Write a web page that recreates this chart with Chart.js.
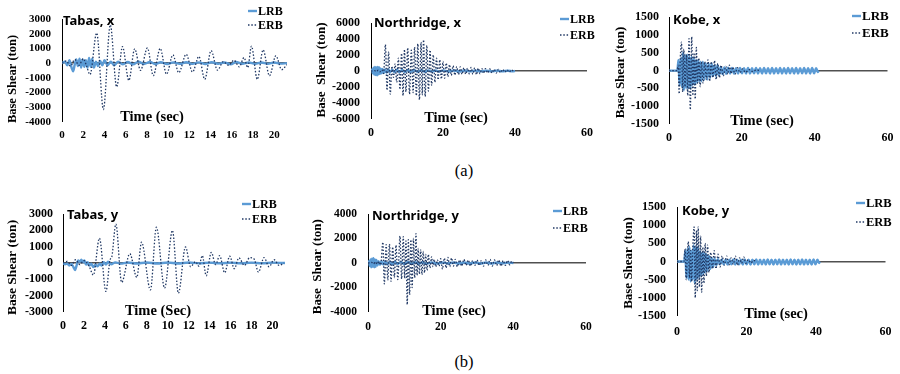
<!DOCTYPE html>
<html>
<head>
<meta charset="utf-8">
<script src="https://cdn.jsdelivr.net/npm/chart.js@4.4.1/dist/chart.umd.min.js"></script>
<style>
html, body { margin: 0; padding: 0; background: #fff; }
#wrap { position: relative; width: 900px; height: 374px; overflow: hidden; }
#wrap canvas { position: absolute; }
.cap { position: absolute; font-family: "Liberation Serif", "Times New Roman", serif; font-size: 16.5px; color: #000; transform: translate(-50%, -50%); }
</style>
</head>
<body>
<div id="wrap">
  <canvas id="c1" width="300" height="150" style="left:0px;top:0px"></canvas>
  <canvas id="c2" width="300" height="150" style="left:300px;top:0px"></canvas>
  <canvas id="c3" width="300" height="150" style="left:600px;top:0px"></canvas>
  <canvas id="c4" width="300" height="155" style="left:0px;top:185px"></canvas>
  <canvas id="c5" width="300" height="155" style="left:300px;top:185px"></canvas>
  <canvas id="c6" width="300" height="155" style="left:600px;top:185px"></canvas>
  <div class="cap" style="left:464px;top:171px">(a)</div>
  <div class="cap" style="left:464px;top:362px">(b)</div>
</div>
<script>
// --- DATA ---
const seriesNames = ['LRB', 'ERB'];

const timeTicksTabas = [0, 2, 4, 6, 8, 10, 12, 14, 16, 18, 20];
const timeTicksLong = [0, 20, 40, 60];
const shearTicksTabasX = [-4000, -3000, -2000, -1000, 0, 1000, 2000, 3000];
const shearTicksTabasY = [-3000, -2000, -1000, 0, 1000, 2000, 3000];
const shearTicksNorthX = [-6000, -4000, -2000, 0, 2000, 4000, 6000];
const shearTicksNorthY = [-4000, -2000, 0, 2000, 4000];
const shearTicksKobe = [-1500, -1000, -500, 0, 500, 1000, 1500];

// [time (sec), base shear (ton)]
const tabasX_LRB = [[0,0],[0.3,100],[0.5,-150],[0.7,200],[0.9,-300],[1.05,-550],[1.2,-100],[1.35,250],[1.5,-200],[1.65,300],[1.8,-300],[1.95,250],[2.1,-250],[2.25,200],[2.4,-300],[2.55,350],[2.7,-250],[2.85,300],[3.0,-300],[3.2,100],[3.4,-200],[3.6,150],[3.8,-150],[4.0,200],[4.3,-150],[4.6,100],[4.9,-150],[5.3,100],[5.7,-80],[6.2,80],[6.7,-80],[7.2,100],[7.7,-60],[8.3,80],[8.8,-60],[9.3,60],[9.9,-60],[10.5,50],[11.1,-50],[11.7,60],[12.3,-50],[12.9,50],[13.5,-60],[14.1,60],[14.7,-40],[15.3,40],[15.9,-80],[16.4,80],[17.0,-40],[17.6,40],[18.2,-50],[18.8,40],[19.4,-40],[20.0,40],[20.6,-30],[21.2,0]];
const tabasX_ERB = [[0,0],[0.4,150],[0.8,-200],[1.2,250],[1.6,-150],[2.0,300],[2.3,-150],[2.64,-780],[3.27,2050],[3.9,-3150],[4.55,2600],[5.15,-1620],[5.7,1120],[6.3,-1170],[6.85,970],[7.4,-490],[8.05,1030],[8.6,-850],[9.25,1000],[9.85,-750],[10.45,560],[11.0,-650],[11.7,600],[12.3,-600],[12.9,450],[13.45,-1100],[14.05,850],[14.65,-480],[15.2,100],[15.7,-150],[16.2,200],[16.7,-250],[17.15,380],[17.5,-300],[17.85,1150],[18.4,-1100],[18.95,900],[19.55,-860],[20.15,500],[20.7,-440],[21.2,-100]];

const northX_LRB = [[0,0],[0.3,200],[0.5,-300],[0.7,400],[0.9,-450],[1.1,500],[1.3,-500],[1.5,450],[1.7,-550],[1.9,500],[2.1,-400],[2.3,450],[2.5,-350],[2.7,300],[2.9,-300],[3.2,250],[3.5,-250],[3.9,200],[4.3,-200],[4.8,200],[5.3,-150],[5.9,150],[6.5,-150],[7.2,150],[7.9,-150],[8.6,120],[9.4,-120],[10.2,120],[11.0,-120],[12.0,100],[13.0,-100],[14.0,100],[15.0,-100],[16.0,80],[17.0,-80],[18.0,80],[19.0,-80],[20.0,80],[21.5,-60],[23.0,60],[24.5,-60],[26.0,60],[27.5,-50],[29.0,50],[30.5,-50],[32.0,50],[33.5,-50],[35.0,50],[36.5,-40],[38.0,40],[39.5,-30],[40.0,0]];
const northX_ERB = [[0,0],[1.0,50],[1.5,-80],[2.0,100],[2.5,-100],[3.0,150],[3.5,-300],[4.0,3300],[4.45,-2400],[4.9,2400],[5.35,-2900],[5.8,600],[6.25,-800],[6.7,900],[7.15,-1400],[7.6,1600],[8.05,-2300],[8.5,2200],[8.9,-3100],[9.3,2700],[9.7,-2600],[10.2,2900],[10.7,-2900],[11.2,2600],[11.7,-2700],[12.1,3000],[12.6,-3100],[13.0,3400],[13.45,-3600],[13.9,3600],[14.25,-3000],[14.6,3900],[15.05,-3200],[15.5,3200],[15.95,-2500],[16.4,2600],[16.85,-1800],[17.3,2000],[17.75,-1400],[18.2,1600],[18.65,-1100],[19.1,1400],[19.55,-1000],[20.0,1200],[20.45,-900],[20.9,1000],[21.35,-700],[21.8,800],[22.3,-550],[22.8,650],[23.3,-500],[23.8,550],[24.3,-450],[24.8,500],[25.3,-400],[25.8,400],[26.3,-400],[26.8,350],[27.3,-350],[27.8,450],[28.3,-400],[28.8,400],[29.3,-450],[29.8,350],[30.3,-350],[30.8,300],[31.3,-300],[31.8,300],[32.4,-250],[33.0,250],[33.6,-250],[34.2,200],[34.8,-250],[35.4,200],[36.0,-200],[36.6,200],[37.2,-150],[37.8,150],[38.4,-150],[39.0,150],[39.5,0]];

const kobeX_LRB = [[0,0],[2.3,0],[2.6,300],[2.9,-400],[3.2,350],[3.5,-450],[3.8,500],[4.1,-550],[4.4,450],[4.7,-500],[5.0,450],[5.3,-500],[5.6,400],[5.9,-500],[6.2,400],[6.5,-400],[6.8,350],[7.1,-400],[7.4,300],[7.7,-350],[8.0,300],[8.3,-300],[8.6,250],[8.9,-300],[9.3,250],[9.7,-250],[10.1,200],[10.5,-250],[10.9,200],[11.3,-200],[11.7,200],[12.1,-150],[12.5,150],[12.9,-150],[13.3,150],[13.7,-120],[14.2,100],[14.7,-100],[15.2,90],[15.7,-90],[16.2,80],[16.75,-80],[17.3,75],[17.85,-80],[18.4,70],[18.95,-80],[19.5,75],[20.05,-75],[20.6,70],[21.15,-80],[21.7,75],[22.25,-80],[22.8,70],[23.35,-75],[23.9,75],[24.45,-80],[25.0,70],[25.55,-80],[26.1,75],[26.65,-75],[27.2,70],[27.75,-80],[28.3,75],[28.85,-80],[29.4,70],[29.95,-75],[30.5,75],[31.05,-80],[31.6,70],[32.15,-80],[32.7,75],[33.25,-75],[33.8,70],[34.35,-80],[34.9,75],[35.45,-80],[36.0,70],[36.55,-75],[37.1,75],[37.65,-80],[38.2,70],[38.75,-80],[39.3,75],[39.85,-75],[40.4,70],[40.9,-40],[41.1,0]];
const kobeX_ERB = [[0,0],[2.2,0],[2.5,150],[2.8,-650],[3.1,350],[3.44,800],[3.75,-600],[4.07,600],[4.4,-450],[4.8,450],[5.15,-700],[5.5,900],[5.85,-1100],[6.24,950],[6.55,-700],[6.88,500],[7.2,-800],[7.5,650],[7.85,-350],[8.2,350],[8.55,-450],[8.9,250],[9.35,-350],[9.8,250],[10.25,-250],[10.7,300],[11.15,-300],[11.6,250],[12.05,-200],[12.5,280],[12.95,-250],[13.4,200],[13.85,-200],[14.3,150],[14.9,-150],[15.6,120],[16.1,-100],[16.6,150],[17.05,-80],[17.5,100],[18.1,-100],[18.8,80],[19.5,-60],[20.2,50],[21.0,-50],[22.0,30],[23.0,-30],[24.0,20],[25.0,0]];

const tabasY_LRB = [[0,0],[0.2,-80],[0.4,-40],[0.6,-150],[0.8,-60],[1.0,-250],[1.15,-430],[1.3,-150],[1.45,150],[1.6,80],[1.75,200],[1.9,50],[2.05,150],[2.2,-100],[2.35,50],[2.5,-150],[2.7,-50],[2.9,-250],[3.1,-100],[3.3,-200],[3.5,-50],[3.7,-150],[3.9,50],[4.1,-100],[4.3,80],[4.6,-80],[5.0,40],[5.5,-40],[6.2,30],[7.0,-30],[8.0,30],[9.0,-30],[10.0,30],[11.0,-30],[12.0,30],[13.0,-20],[14.0,20],[15.0,-20],[16.0,20],[17.0,-20],[18.0,20],[19.0,-20],[20.0,20],[21.2,0]];
const tabasY_ERB = [[0,0],[0.4,100],[0.8,-150],[1.2,200],[1.6,-100],[2.0,150],[2.5,-200],[2.9,-740],[3.48,1520],[4.1,-1740],[4.5,200],[4.65,350],[5.05,2380],[5.6,-1190],[6.38,570],[7.05,-880],[7.5,1270],[8.35,-1650],[8.92,2190],[9.7,-1540],[10.45,2000],[11.02,-1850],[11.7,980],[12.19,-230],[12.66,80],[12.98,-200],[13.3,450],[13.68,-780],[14.16,650],[14.58,-100],[14.96,450],[15.44,-600],[15.92,420],[16.36,-350],[16.8,320],[17.32,-150],[17.83,330],[18.25,250],[18.66,-560],[19.2,330],[19.68,-230],[20.16,200],[20.64,-150],[21.1,0]];

const northY_LRB = [[0,0],[0.3,150],[0.5,-250],[0.7,300],[0.9,-350],[1.1,350],[1.3,-300],[1.5,400],[1.7,-350],[1.9,300],[2.1,-300],[2.3,250],[2.6,-200],[2.9,150],[3.3,-150],[3.7,150],[4.2,-120],[4.7,120],[5.3,-100],[6.0,100],[6.7,-100],[7.4,100],[8.2,-80],[9.0,80],[10.0,-80],[11.0,80],[12.0,-70],[13.0,70],[14.0,-70],[15.0,60],[16.0,-60],[17.5,50],[19.0,-50],[20.5,50],[22.0,-40],[23.5,40],[25.0,-40],[26.5,40],[28.0,-40],[29.5,40],[31.0,-40],[32.5,40],[34.0,-40],[35.5,40],[37.0,-30],[38.5,30],[40.0,0]];
const northY_ERB = [[0,0],[1.0,50],[1.5,-80],[2.0,100],[2.5,-100],[3.0,120],[3.5,-150],[4.09,1700],[4.5,-1700],[5.0,1500],[5.45,-1400],[5.9,1550],[6.35,-1500],[6.8,1300],[7.25,-1200],[7.7,1450],[8.2,-1350],[8.8,2200],[9.25,-1300],[9.7,2150],[10.1,-1250],[10.45,1800],[10.8,-3400],[11.1,1900],[11.45,-2600],[11.8,1900],[12.15,-2000],[12.5,2000],[12.85,-1200],[13.2,2400],[13.5,-1000],[13.8,1200],[14.15,-900],[14.5,1100],[14.85,-950],[15.2,950],[15.55,-800],[15.9,700],[16.25,-600],[16.6,700],[17.05,-400],[17.5,500],[17.85,-300],[18.2,300],[18.65,-300],[19.1,250],[19.55,-250],[20.0,350],[20.5,-500],[21.0,400],[21.5,-400],[22.0,450],[22.5,-300],[23.0,400],[23.5,-250],[24.0,300],[24.6,-300],[25.2,250],[25.8,-250],[26.4,300],[27.0,-200],[27.6,250],[28.2,-250],[28.8,200],[29.4,-200],[30.0,250],[30.6,-200],[31.2,200],[31.8,-250],[32.4,250],[33.0,-200],[33.6,300],[34.2,-250],[34.8,250],[35.4,-200],[36.0,250],[36.6,-250],[37.2,200],[37.8,-200],[38.4,200],[39.0,-150],[39.6,150],[40.0,0]];

const kobeY_LRB = [[0,0],[2.1,0],[2.4,300],[2.7,-450],[3.0,350],[3.3,-500],[3.6,400],[3.9,-550],[4.2,300],[4.5,-500],[4.8,450],[5.1,-600],[5.4,400],[5.7,-500],[6.0,400],[6.3,-450],[6.6,300],[6.9,-400],[7.2,250],[7.5,-350],[7.8,250],[8.1,-300],[8.45,200],[8.8,-250],[9.2,150],[9.6,-200],[10.0,100],[10.4,-150],[10.8,80],[11.3,-100],[11.8,60],[12.35,-80],[12.9,55],[13.45,-80],[14.0,50],[14.55,-85],[15.1,50],[15.65,-80],[16.2,55],[16.75,-85],[17.3,50],[17.85,-80],[18.4,50],[18.95,-85],[19.5,55],[20.05,-80],[20.6,50],[21.15,-85],[21.7,50],[22.25,-80],[22.8,55],[23.35,-85],[23.9,50],[24.45,-80],[25.0,50],[25.55,-85],[26.1,55],[26.65,-80],[27.2,50],[27.75,-85],[28.3,50],[28.85,-80],[29.4,55],[29.95,-85],[30.5,50],[31.05,-80],[31.6,50],[32.15,-85],[32.7,55],[33.25,-80],[33.8,50],[34.35,-85],[34.9,50],[35.45,-80],[36.0,55],[36.55,-85],[37.1,50],[37.65,-80],[38.2,50],[38.75,-85],[39.3,55],[39.85,-80],[40.4,50],[40.9,-40],[41.1,0]];
const kobeY_ERB = [[0,0],[2.0,0],[2.3,350],[2.65,-500],[3.0,250],[3.26,550],[3.6,-450],[3.9,300],[4.2,-550],[4.55,400],[4.93,950],[5.25,-1000],[5.6,850],[5.85,-800],[6.1,950],[6.45,-700],[6.8,700],[7.1,-850],[7.45,400],[7.75,-600],[8.1,500],[8.45,-400],[8.8,450],[9.2,-300],[9.7,250],[10.2,-200],[10.7,300],[11.2,-200],[11.8,200],[12.4,-150],[13.0,150],[13.6,-100],[14.3,150],[14.9,-100],[15.6,100],[16.2,-80],[16.8,150],[17.4,-100],[18.0,100],[18.6,-50],[19.2,130],[19.8,-50],[20.5,50],[21.3,-40],[22.0,30],[23.0,0]];

// --- STYLE ---
const SERIF = '"Liberation Serif", "Times New Roman", serif';
const SANS = '"Noto Sans", "Open Sans", sans-serif';
const LRB_COLOR = '#5b9bd5';
const ERB_COLOR = '#203864';
const ZERO_COLOR = '#505050';

// panels: canvas offset + layout (page px)
const panels = [
  { id: 'c1', left: 0, top: 0, lrb: tabasX_LRB, erb: tabasX_ERB, xMax: 21.2, xTicks: timeTicksTabas,
    yMin: -4000, yMax: 3000, yTicks: shearTicksTabasX, yW: 62, padR: 13, padT: 19, xH: 28,
    tickSize: 11, xPad: 7, yPad: 11,
    title: 'Tabas, x', titlePos: [63, 21], xTitle: 'Time (sec)', xTitlePos: [152, 117],
    yTitle: 'Base Shear (ton)', yTitlePos: [13, 79], yTitleSize: 12.5, legendPos: [248, 11, 25], legendSize: 12 },
  { id: 'c2', left: 300, top: 0, lrb: northX_LRB, erb: northX_ERB, xMax: 60, xTicks: timeTicksLong,
    yMin: -6000, yMax: 6000, yTicks: shearTicksNorthX, yW: 71, padR: 11, padT: 23, xH: 31,
    tickSize: 12, xPad: 7, yPad: 11,
    title: 'Northridge, x', titlePos: [374, 23.5], xTitle: 'Time (sec)', xTitlePos: [456, 118],
    yTitle: 'Base  Shear (ton)', yTitlePos: [322, 70], yTitleSize: 13, legendPos: [560, 19, 35], legendSize: 12 },
  { id: 'c3', left: 600, top: 0, lrb: kobeX_LRB, erb: kobeX_ERB, xMax: 60, xTicks: timeTicksLong,
    yMin: -1500, yMax: 1500, yTicks: shearTicksKobe, yW: 69, padR: 12, padT: 17, xH: 26,
    tickSize: 12, xPad: 6.5, yPad: 10,
    title: 'Kobe, x', titlePos: [673, 20], xTitle: 'Time (sec)', xTitlePos: [762, 121],
    yTitle: 'Base Shear (ton)', yTitlePos: [621, 72.5], yTitleSize: 13, legendPos: [852, 16, 33], legendSize: 13 },
  { id: 'c4', left: 0, top: 185, lrb: tabasY_LRB, erb: tabasY_ERB, xMax: 21.2, xTicks: timeTicksTabas,
    yMin: -3000, yMax: 3000, yTicks: shearTicksTabasY, yW: 63, padR: 15, padT: 29, xH: 28,
    tickSize: 12, xPad: 6.5, yPad: 10,
    title: 'Tabas, y', titlePos: [67, 215], xTitle: 'Time (Sec)', xTitlePos: [158, 311],
    yTitle: 'Base Shear (ton)', yTitlePos: [13, 267.5], yTitleSize: 13.5, legendPos: [242, 204, 219], legendSize: 12 },
  { id: 'c5', left: 300, top: 185, lrb: northY_LRB, erb: northY_ERB, xMax: 60, xTicks: timeTicksLong,
    yMin: -4000, yMax: 4000, yTicks: shearTicksNorthY, yW: 68, padR: 14, padT: 29, xH: 28,
    tickSize: 11.5, xPad: 8, yPad: 11,
    title: 'Northridge, y', titlePos: [372, 216], xTitle: 'Time (sec)', xTitlePos: [454, 311],
    yTitle: 'Base  Shear (ton)', yTitlePos: [318, 266.7], yTitleSize: 13, legendPos: [553, 211, 228], legendSize: 12 },
  { id: 'c6', left: 600, top: 185, lrb: kobeY_LRB, erb: kobeY_ERB, xMax: 60, xTicks: timeTicksLong,
    yMin: -1500, yMax: 1500, yTicks: shearTicksKobe, yW: 77, padR: 8, padT: 22, xH: 24,
    tickSize: 12, xPad: 8.5, yPad: 11,
    title: 'Kobe, y', titlePos: [682, 211], xTitle: 'Time (sec)', xTitlePos: [776, 314],
    yTitle: 'Base Shear (ton)', yTitlePos: [629, 263], yTitleSize: 13, legendPos: [856, 203, 222], legendSize: 12.5 }
];

// titles, axis titles inside the plot and the legend
const panelText = {
  id: 'panelText',
  afterDraw(chart) {
    const p = chart.config.options.panel;
    const ctx = chart.ctx;
    const ox = p.left, oy = p.top;
    ctx.save();
    ctx.fillStyle = '#000';
    ctx.textBaseline = 'middle';

    ctx.font = 'bold 13px ' + SANS;
    ctx.textAlign = 'left';
    ctx.fillText(p.title, p.titlePos[0] - ox, p.titlePos[1] - oy);

    ctx.font = 'bold 14.5px ' + SERIF;
    ctx.textAlign = 'center';
    ctx.fillText(p.xTitle, p.xTitlePos[0] - ox, p.xTitlePos[1] - oy);

    ctx.save();
    ctx.translate(p.yTitlePos[0] - ox, p.yTitlePos[1] - oy);
    ctx.rotate(-Math.PI / 2);
    ctx.font = 'bold ' + p.yTitleSize + 'px ' + SERIF;
    ctx.fillText(p.yTitle, 0, 0);
    ctx.restore();

    const lx = p.legendPos[0] - ox;
    chart.data.datasets.forEach((ds, i) => {
      const y = p.legendPos[i + 1] - oy;
      ctx.beginPath();
      ctx.strokeStyle = ds.borderColor;
      ctx.lineWidth = ds.borderWidth;
      ctx.setLineDash(ds.borderDash || []);
      ctx.moveTo(lx, y);
      ctx.lineTo(lx + 9, y);
      ctx.stroke();
      ctx.setLineDash([]);
      ctx.font = 'bold ' + p.legendSize + 'px ' + SERIF;
      ctx.textAlign = 'left';
      ctx.fillText(ds.label, lx + 10, y + 0.5);
    });
    ctx.restore();
  }
};

const toXY = arr => arr.map(d => ({ x: d[0], y: d[1] }));

function makeChart(p) {
  const tickFont = { family: SERIF, weight: 'bold', size: p.tickSize };
  return new Chart(document.getElementById(p.id), {
    type: 'line',
    data: {
      datasets: [
        { label: seriesNames[0], data: toXY(p.lrb), borderColor: LRB_COLOR, borderWidth: 2.4,
          pointRadius: 0, tension: 0.4, cubicInterpolationMode: 'monotone', order: 1 },
        { label: seriesNames[1], data: toXY(p.erb), borderColor: ERB_COLOR, borderWidth: 1.3,
          borderDash: [1.5, 1.8], pointRadius: 0, tension: 0.4, cubicInterpolationMode: 'monotone', order: 0 }
      ]
    },
    options: {
      panel: p,
      responsive: false,
      animation: false,
      devicePixelRatio: 1,
      layout: { padding: { left: 0, right: p.padR, top: p.padT, bottom: 0 } },
      plugins: { legend: { display: false }, tooltip: { enabled: false } },
      scales: {
        x: {
          type: 'linear', min: 0, max: p.xMax,
          afterBuildTicks: s => { s.ticks = p.xTicks.map(v => ({ value: v })); },
          afterFit: s => { s.height = p.xH; },
          grid: { display: false, drawTicks: false },
          border: { display: false },
          ticks: { font: tickFont, color: '#000', padding: p.xPad, maxRotation: 0, autoSkip: false, callback: v => String(v) }
        },
        y: {
          type: 'linear', min: p.yMin, max: p.yMax,
          afterBuildTicks: s => { s.ticks = p.yTicks.map(v => ({ value: v })); },
          afterFit: s => { s.width = p.yW; },
          grid: {
            drawTicks: false,
            color: c => (c.tick && c.tick.value === 0) ? ZERO_COLOR : 'rgba(0,0,0,0)',
            lineWidth: c => (c.tick && c.tick.value === 0) ? 1.6 : 0
          },
          border: { display: true, color: '#000', width: 1 },
          ticks: { font: tickFont, color: '#000', padding: p.yPad, autoSkip: false, callback: v => String(v) }
        }
      }
    },
    plugins: [panelText]
  });
}

panels.forEach(makeChart);
</script>
</body>
</html>
